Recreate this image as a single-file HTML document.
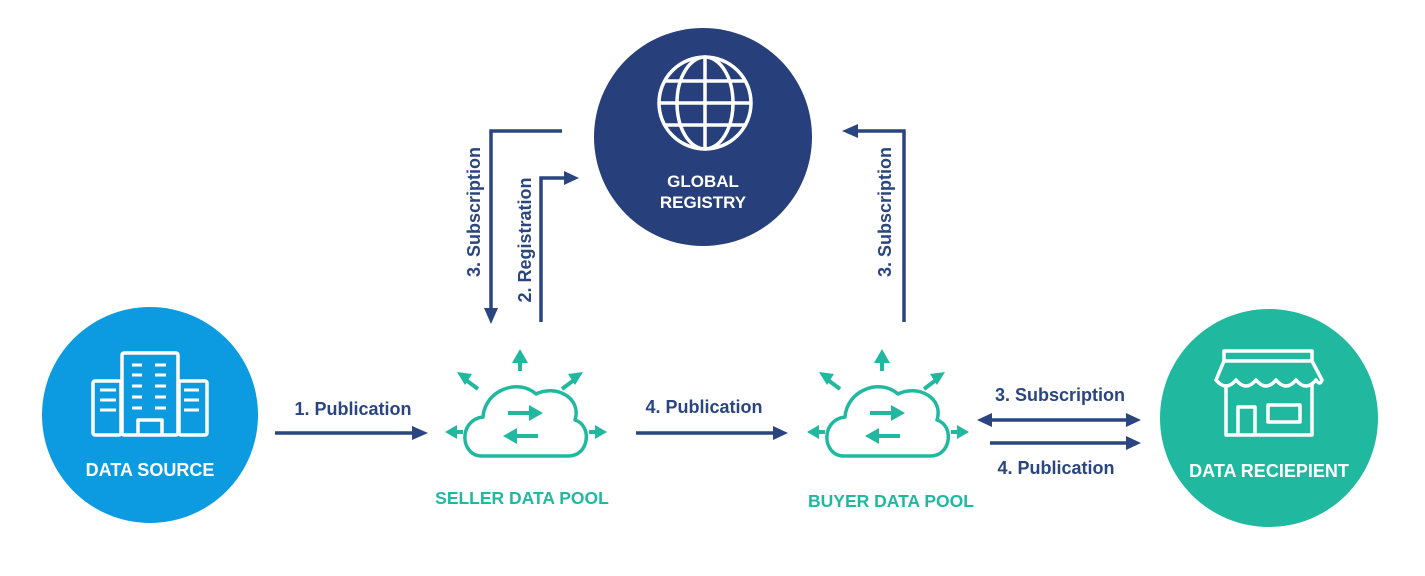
<!DOCTYPE html>
<html><head><meta charset="utf-8"><style>
html,body{margin:0;padding:0;background:#fff;}
svg{display:block;}
text{font-family:"Liberation Sans",sans-serif;font-weight:bold;}
</style></head><body>
<svg width="1425" height="576" viewBox="0 0 1425 576" xmlns="http://www.w3.org/2000/svg">
<defs>
<g id="cloud">
<g fill="none" stroke="#20b9a0" stroke-width="3.5" stroke-linejoin="round">
<path d="M482,456 C460,456 458,420 483,417 C485,390 518,378 536,394 C556,384 582,398 575,420 C592,425 590,456 568,456 Z"/>
</g>
<g stroke="#20b9a0" stroke-width="4" fill="#20b9a0">
<line x1="508" y1="413" x2="532" y2="413"/><path d="M529,405 L543,413 L529,421 Z" stroke="none"/>
<line x1="514" y1="436" x2="538" y2="436"/><path d="M517,428 L503,436 L517,444 Z" stroke="none"/>
<line x1="520" y1="371" x2="520" y2="360"/><path d="M512,363 L520,349 L528,363 Z" stroke="none"/>
<line x1="478" y1="389" x2="466" y2="380"/><path d="M457,372 L472,374 L465,385 Z" stroke="none"/>
<line x1="562" y1="389" x2="574" y2="380"/><path d="M583,372 L568,374 L575,385 Z" stroke="none"/>
<line x1="463" y1="432" x2="455" y2="432"/><path d="M457,425 L445,432 L457,439 Z" stroke="none"/>
<line x1="589" y1="432" x2="597" y2="432"/><path d="M595,425 L607,432 L595,439 Z" stroke="none"/>
</g>
</g>
</defs>

<!-- Global registry -->
<circle cx="703" cy="137" r="109" fill="#273f7a"/>
<g fill="none" stroke="#fff" stroke-width="3.5">
<circle cx="705" cy="103" r="46"/>
<ellipse cx="705" cy="103" rx="28" ry="46"/>
<line x1="705" y1="57" x2="705" y2="149"/>
<line x1="659" y1="103" x2="751" y2="103"/>
<line x1="664" y1="81" x2="746" y2="81"/>
<line x1="664" y1="125" x2="746" y2="125"/>
</g>
<text x="703" y="187" fill="#fff" font-size="17" text-anchor="middle">GLOBAL</text>
<text x="703" y="208" fill="#fff" font-size="17" text-anchor="middle">REGISTRY</text>

<!-- Data source -->
<circle cx="150" cy="415" r="108" fill="#0c9be0"/>
<g fill="none" stroke="#fff" stroke-width="3.5" stroke-linejoin="round">
<rect x="93" y="381" width="28" height="54" rx="2"/>
<rect x="179" y="381" width="28" height="54" rx="2"/>
<rect x="122" y="353" width="56" height="82" rx="2"/>
<path d="M138,435 V420 H162 V435"/>
</g>
<g stroke="#fff" stroke-width="3">
<line x1="132" y1="365" x2="142" y2="365"/><line x1="155" y1="365" x2="166" y2="365"/>
<line x1="132" y1="375" x2="142" y2="375"/><line x1="155" y1="375" x2="166" y2="375"/>
<line x1="132" y1="386" x2="142" y2="386"/><line x1="155" y1="386" x2="166" y2="386"/>
<line x1="132" y1="397" x2="142" y2="397"/><line x1="155" y1="397" x2="166" y2="397"/>
<line x1="132" y1="408" x2="142" y2="408"/><line x1="155" y1="408" x2="166" y2="408"/>
<line x1="100" y1="390" x2="116" y2="390"/><line x1="100" y1="400" x2="116" y2="400"/><line x1="100" y1="410" x2="116" y2="410"/>
<line x1="184" y1="390" x2="199" y2="390"/><line x1="184" y1="400" x2="199" y2="400"/><line x1="184" y1="410" x2="199" y2="410"/>
</g>
<text x="150" y="476" fill="#fff" font-size="18" text-anchor="middle">DATA SOURCE</text>

<!-- Data recipient -->
<circle cx="1269" cy="418" r="109" fill="#20b9a0"/>
<g fill="none" stroke="#fff" stroke-width="3.5" stroke-linejoin="round">
<rect x="1224" y="351" width="88" height="10"/>
<path d="M1224,361 L1216,380 Q1226,392 1236,380 Q1246,392 1256,380 Q1266,392 1276,380 Q1286,392 1296,380 Q1306,392 1316,380 Q1320,386 1322,380 L1312,361"/>
<path d="M1226,384 V435 H1312 V384"/>
<path d="M1238,435 V407 H1255 V435"/>
<rect x="1268" y="405" width="32" height="17"/>
</g>
<text x="1269" y="477" fill="#fff" font-size="18" text-anchor="middle">DATA RECIEPIENT</text>

<!-- clouds -->
<use href="#cloud"/>
<use href="#cloud" transform="translate(362,0)"/>
<text x="522" y="504" fill="#20b9a0" font-size="17.5" text-anchor="middle">SELLER DATA POOL</text>
<text x="891" y="507" fill="#20b9a0" font-size="17.5" text-anchor="middle">BUYER DATA POOL</text>

<!-- connectors -->
<g stroke="#2a4580" stroke-width="3.5" fill="none">
<line x1="275" y1="433" x2="414" y2="433"/>
<line x1="636" y1="433" x2="775" y2="433"/>
<line x1="990" y1="420" x2="1128" y2="420"/>
<line x1="990" y1="443" x2="1128" y2="443"/>
<polyline points="562,131 491,131 491,310"/>
<polyline points="541,322 541,178 566,178"/>
<polyline points="904,322 904,131 856,131"/>
</g>
<g fill="#2a4580">
<polygon points="412,426 428,433 412,440"/>
<polygon points="773,426 788,433 773,440"/>
<polygon points="992,413 977,420 992,427"/>
<polygon points="1126,413 1141,420 1126,427"/>
<polygon points="1126,436 1141,443 1126,450"/>
<polygon points="484,308 491,324 498,308"/>
<polygon points="564,171 579,178 564,185"/>
<polygon points="858,124 842,131 858,138"/>
</g>
<g fill="#2a4580" font-size="18">
<text x="353" y="415" text-anchor="middle">1. Publication</text>
<text x="704" y="413" text-anchor="middle">4. Publication</text>
<text x="1060" y="401" text-anchor="middle">3. Subscription</text>
<text x="1056" y="474" text-anchor="middle">4. Publication</text>
<text transform="translate(480,212) rotate(-90)" text-anchor="middle">3. Subscription</text>
<text transform="translate(531,240) rotate(-90)" text-anchor="middle">2. Registration</text>
<text transform="translate(891,212) rotate(-90)" text-anchor="middle">3. Subscription</text>
</g>
</svg>
</body></html>
